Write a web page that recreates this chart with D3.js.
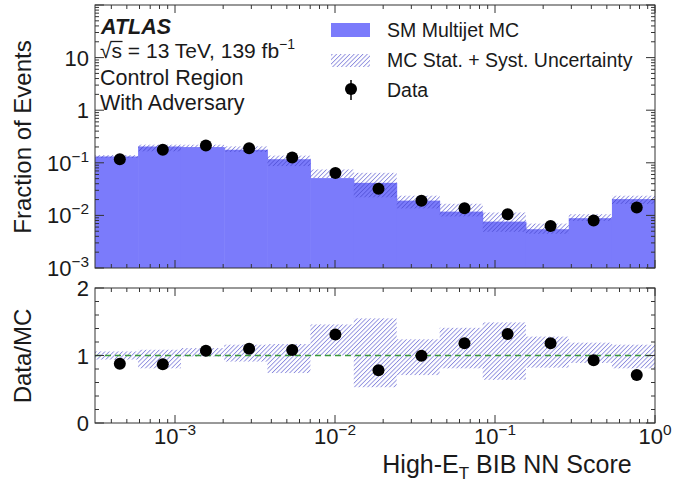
<!DOCTYPE html>
<html>
<head>
<meta charset="utf-8">
<script src="https://cdn.jsdelivr.net/npm/d3@7"></script>
<style>
  body { margin: 0; background: #fff; }
  svg { font-family: "Liberation Sans", Arial, sans-serif; }
</style>
</head>
<body>
<svg width="673" height="482"></svg>
<script>
// bin edges of the NN score histogram (log-spaced)
var binEdges = [3.16e-4, 5.88e-4, 1.09e-3, 2.03e-3, 3.78e-3, 7.02e-3, 1.31e-2, 2.43e-2, 4.51e-2, 8.38e-2, 0.156, 0.289, 0.538, 1.0];
var mcFraction = [0.132, 0.204, 0.199, 0.177, 0.117, 0.0512, 0.0416, 0.0191, 0.0118, 0.00762, 0.00546, 0.00885, 0.0204];
var dataFraction = [0.117, 0.177, 0.214, 0.190, 0.126, 0.0637, 0.0320, 0.0189, 0.0137, 0.0105, 0.0063, 0.0080, 0.0141];
var uncLow = [0.94, 0.81, 0.985, 0.91, 0.74, 1.0, 0.53, 0.71, 0.81, 0.64, 0.82, 0.89, 0.81];
var uncHigh = [1.06, 1.085, 1.11, 1.16, 1.17, 1.46, 1.55, 1.24, 1.41, 1.49, 1.28, 1.19, 1.16];
var dataRatio = [0.877, 0.872, 1.07, 1.10, 1.08, 1.31, 0.78, 0.995, 1.18, 1.32, 1.18, 0.93, 0.71];

var xMajor = [1e-3, 1e-2, 1e-1, 1];
var xLabels = [['10', '\u22123'], ['10', '\u22122'], ['10', '\u22121'], ['10', '0']];
var yTopMajor = [1e-3, 1e-2, 1e-1, 1, 10, 100];
var yTopLabels = [['10', '\u22123'], ['10', '\u22122'], ['10', '\u22121'], ['1', ''], ['10', ''], null];
var yRatioMajor = [0, 1, 2];

var svg = d3.select('svg');
var left = 95, right = 655;
var topY0 = 5, topY1 = 268, botY0 = 288, botY1 = 423;
var ink = '#1a1a1a';

var x = d3.scaleLog().domain([Math.pow(10, -3.5), 1]).range([left, right]);
var yTop = d3.scaleLog().domain([1e-3, 100]).range([topY1, topY0]);
var yRat = d3.scaleLinear().domain([0, 2]).range([botY1, botY0]);

var bins = mcFraction.map(function(v, i) {
    return { x0: binEdges[i], x1: binEdges[i + 1], mc: v, data: dataFraction[i],
             lo: uncLow[i], hi: uncHigh[i], ratio: dataRatio[i] };
});

// hatch pattern
var defs = svg.append('defs');
defs.append('pattern')
    .attr('id', 'hatch')
    .attr('patternUnits', 'userSpaceOnUse')
    .attr('width', 3.1).attr('height', 3.1)
    .attr('patternTransform', 'rotate(45)')
    .append('line')
    .attr('x1', 0).attr('y1', 0).attr('x2', 0).attr('y2', 3.1)
    .attr('stroke', '#4040c8').attr('stroke-opacity', 0.62).attr('stroke-width', 1.7);
defs.append('clipPath').attr('id', 'clipTop').append('rect')
    .attr('x', left).attr('y', topY0).attr('width', right - left).attr('height', topY1 - topY0);
defs.append('clipPath').attr('id', 'clipBot').append('rect')
    .attr('x', left).attr('y', botY0).attr('width', right - left).attr('height', botY1 - botY0);

// ---- top panel ----
var gTop = svg.append('g').attr('clip-path', 'url(#clipTop)');
gTop.selectAll('rect.mc').data(bins).enter().append('rect')
    .attr('x', function(d) { return x(d.x0); })
    .attr('width', function(d) { return x(d.x1) - x(d.x0) + 0.5; })
    .attr('y', function(d) { return yTop(d.mc); })
    .attr('height', function(d) { return topY1 - yTop(d.mc); })
    .style('fill', '#7b7bfb');
gTop.selectAll('rect.unc').data(bins).enter().append('rect')
    .attr('x', function(d) { return x(d.x0); })
    .attr('width', function(d) { return x(d.x1) - x(d.x0); })
    .attr('y', function(d) { return yTop(d.mc * d.hi); })
    .attr('height', function(d) { return yTop(d.mc * d.lo) - yTop(d.mc * d.hi); })
    .style('fill', 'url(#hatch)');
gTop.selectAll('circle').data(bins).enter().append('circle')
    .attr('cx', function(d) { return x((d.x0 + d.x1) / 2); })
    .attr('cy', function(d) { return yTop(d.data); })
    .attr('r', 6)
    .style('fill', '#000');

// ---- ratio panel ----
var gBot = svg.append('g').attr('clip-path', 'url(#clipBot)');
gBot.selectAll('rect.unc').data(bins).enter().append('rect')
    .attr('x', function(d) { return x(d.x0); })
    .attr('width', function(d) { return x(d.x1) - x(d.x0); })
    .attr('y', function(d) { return yRat(d.hi); })
    .attr('height', function(d) { return yRat(d.lo) - yRat(d.hi); })
    .style('fill', 'url(#hatch)');
gBot.append('line')
    .attr('x1', left).attr('x2', right)
    .attr('y1', yRat(1)).attr('y2', yRat(1))
    .style('stroke', '#3a9a3a').style('stroke-width', 1.6).style('stroke-dasharray', '6,4');
gBot.selectAll('circle').data(bins).enter().append('circle')
    .attr('cx', function(d) { return x((d.x0 + d.x1) / 2); })
    .attr('cy', function(d) { return yRat(d.ratio); })
    .attr('r', 6)
    .style('fill', '#000');

// ---- frames and ticks ----
function xMinorTicks() {
    var t = [];
    for (var e = -4; e < 0; e++) {
        for (var m = 2; m < 10; m++) {
            var v = m * Math.pow(10, e);
            if (v > x.domain()[0] && v < 1) t.push(v);
        }
    }
    return t;
}
function yMinorTicks() {
    var t = [];
    for (var e = -3; e < 2; e++) {
        for (var m = 2; m < 10; m++) t.push(m * Math.pow(10, e));
    }
    return t;
}

function frame(y0, y1) {
    svg.append('rect')
        .attr('x', left).attr('y', y0)
        .attr('width', right - left).attr('height', y1 - y0)
        .style('fill', 'none').style('stroke', '#333').style('stroke-width', 1);
    var g = svg.append('g').style('stroke', '#333').style('stroke-width', 1);
    xMajor.forEach(function(v) {
        g.append('line').attr('x1', x(v)).attr('x2', x(v)).attr('y1', y1).attr('y2', y1 - 8);
        g.append('line').attr('x1', x(v)).attr('x2', x(v)).attr('y1', y0).attr('y2', y0 + 8);
    });
    xMinorTicks().forEach(function(v) {
        g.append('line').attr('x1', x(v)).attr('x2', x(v)).attr('y1', y1).attr('y2', y1 - 4);
        g.append('line').attr('x1', x(v)).attr('x2', x(v)).attr('y1', y0).attr('y2', y0 + 4);
    });
    return g;
}

var gt = frame(topY0, topY1);
yTopMajor.forEach(function(v) {
    gt.append('line').attr('x1', left).attr('x2', left + 9).attr('y1', yTop(v)).attr('y2', yTop(v));
    gt.append('line').attr('x1', right).attr('x2', right - 9).attr('y1', yTop(v)).attr('y2', yTop(v));
});
yMinorTicks().forEach(function(v) {
    gt.append('line').attr('x1', left).attr('x2', left + 4).attr('y1', yTop(v)).attr('y2', yTop(v));
    gt.append('line').attr('x1', right).attr('x2', right - 4).attr('y1', yTop(v)).attr('y2', yTop(v));
});

var gb = frame(botY0, botY1);
d3.range(0, 2.01, 0.2).forEach(function(v) {
    var major = Math.abs(v - Math.round(v)) < 1e-6;
    var len = major ? 9 : 4;
    gb.append('line').attr('x1', left).attr('x2', left + len).attr('y1', yRat(v)).attr('y2', yRat(v));
    gb.append('line').attr('x1', right).attr('x2', right - len).attr('y1', yRat(v)).attr('y2', yRat(v));
});

// ---- tick labels ----
var tickSize = 22;
function powLabel(sel, base, exp, size) {
    sel.append('tspan').text(base);
    if (exp) {
        sel.append('tspan').attr('dy', -size * 0.42).style('font-size', (size * 0.7) + 'px').text(exp);
    }
}
yTopLabels.forEach(function(l, i) {
    if (!l) return;
    var t = svg.append('text')
        .attr('x', 89).attr('y', yTop(yTopMajor[i]) + 8)
        .attr('text-anchor', 'end')
        .style('font-size', tickSize + 'px').style('fill', ink);
    powLabel(t, l[0], l[1], tickSize);
});
yRatioMajor.forEach(function(v) {
    svg.append('text')
        .attr('x', 89).attr('y', yRat(v) + 8)
        .attr('text-anchor', 'end')
        .style('font-size', tickSize + 'px').style('fill', ink)
        .text(v);
});
xLabels.forEach(function(l, i) {
    var t = svg.append('text')
        .attr('x', x(xMajor[i])).attr('y', 444)
        .attr('text-anchor', 'middle')
        .style('font-size', tickSize + 'px').style('fill', ink);
    powLabel(t, l[0], l[1], tickSize);
});

// ---- axis titles ----
svg.append('text')
    .attr('transform', 'translate(31,137) rotate(-90)')
    .attr('text-anchor', 'middle')
    .style('font-size', '24px').style('fill', ink)
    .text('Fraction of Events');
svg.append('text')
    .attr('transform', 'translate(31,356) rotate(-90)')
    .attr('text-anchor', 'middle')
    .style('font-size', '24px').style('fill', ink)
    .text('Data/MC');
var xt = svg.append('text')
    .attr('x', 507).attr('y', 473)
    .attr('text-anchor', 'middle')
    .style('font-size', '25px').style('fill', ink);
xt.append('tspan').text('High-E');
xt.append('tspan').attr('dy', 6).style('font-size', '17px').text('T');
xt.append('tspan').attr('dy', -6).text(' BIB NN Score');

// ---- ATLAS label ----
svg.append('text')
    .attr('x', 101).attr('y', 34)
    .style('font-size', '21.5px').style('font-weight', 'bold').style('font-style', 'italic')
    .style('fill', ink)
    .text('ATLAS');
var rs = svg.append('text').attr('x', 100).attr('y', 58).style('font-size', '21px').style('fill', ink);
rs.append('tspan').text('\u221As');
rs.append('tspan').text(' =  13 TeV, 139 fb');
rs.append('tspan').attr('dy', -9).style('font-size', '14px').text('\u22121');
// bar over the s of the square root
var rsNode = rs.node();
var sStart = rsNode.getStartPositionOfChar(1);
var sEnd = rsNode.getEndPositionOfChar(1);
svg.append('line')
    .attr('x1', sStart.x - 1).attr('x2', sEnd.x + 0.5)
    .attr('y1', 41.5).attr('y2', 41.5)
    .style('stroke', ink).style('stroke-width', 1.3);
svg.append('text').attr('x', 100).attr('y', 85).style('font-size', '21.5px').style('fill', ink).text('Control Region');
svg.append('text').attr('x', 100).attr('y', 110).style('font-size', '21.5px').style('fill', ink).text('With Adversary');

// ---- legend ----
svg.append('rect').attr('x', 331).attr('y', 23).attr('width', 39).attr('height', 14).style('fill', '#7b7bfb');
svg.append('rect').attr('x', 331).attr('y', 54).attr('width', 39).attr('height', 13).style('fill', 'url(#hatch)');
svg.append('line').attr('x1', 351).attr('x2', 351).attr('y1', 80).attr('y2', 100)
    .style('stroke', '#000').style('stroke-width', 1.5);
svg.append('circle').attr('cx', 351).attr('cy', 89).attr('r', 6).style('fill', '#000');
var legendText = ['SM Multijet MC', 'MC Stat. + Syst. Uncertainty', 'Data'];
legendText.forEach(function(s, i) {
    svg.append('text')
        .attr('x', 387).attr('y', 37 + i * 30)
        .style('font-size', '19.5px').style('fill', ink)
        .text(s);
});
</script>
</body>
</html>
